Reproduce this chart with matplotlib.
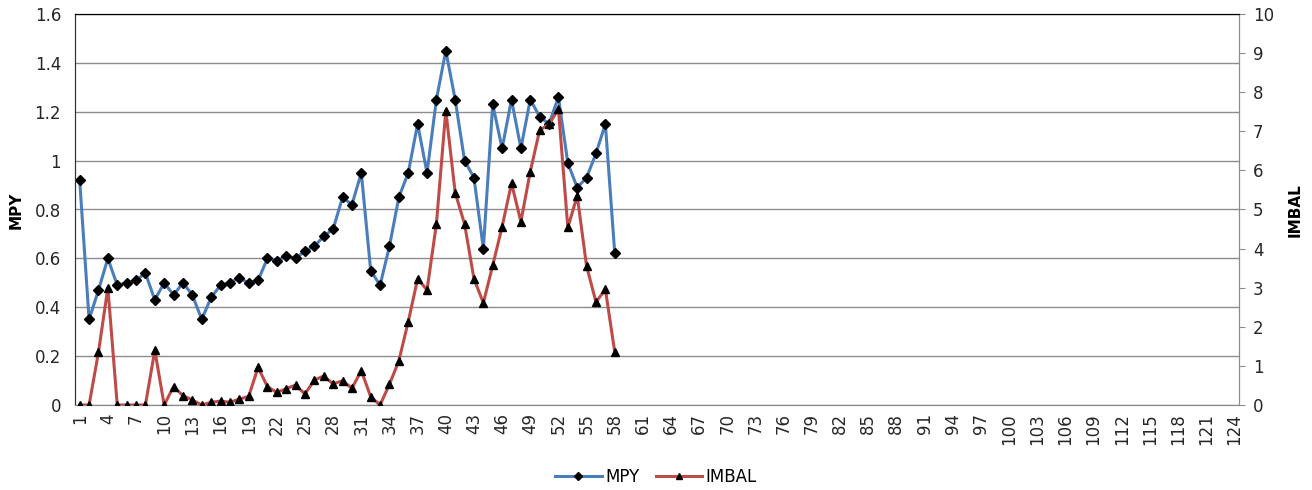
import matplotlib.pyplot as plt
import numpy as np

plt.rcParams['font.family'] = ['DejaVu Sans Condensed', 'DejaVu Sans']

n_cat = 124
mpy = [0.92, 0.35, 0.47, 0.60, 0.49, 0.50, 0.51, 0.54, 0.43, 0.50,
       0.45, 0.50, 0.45, 0.35, 0.44, 0.49, 0.50, 0.52, 0.50, 0.51,
       0.60, 0.59, 0.61, 0.60, 0.63, 0.65, 0.69, 0.72, 0.85, 0.82,
       0.95, 0.55, 0.49, 0.65, 0.85, 0.95, 1.15, 0.95, 1.25, 1.45,
       1.25, 1.00, 0.93, 0.64, 1.23, 1.05, 1.25, 1.05, 1.25, 1.18,
       1.15, 1.26, 0.99, 0.89, 0.93, 1.03, 1.15, 0.62]
imbal = [0, 0, 1.35, 3.0, 0, 0, 0, 0, 1.4, 0,
         0.47, 0.24, 0.13, 0, 0.07, 0.10, 0.07, 0.15, 0.22, 0.96,
         0.47, 0.32, 0.42, 0.51, 0.28, 0.64, 0.74, 0.54, 0.62, 0.43,
         0.88, 0.21, 0, 0.53, 1.13, 2.13, 3.23, 2.94, 4.63, 7.53,
         5.43, 4.63, 3.23, 2.61, 3.57, 4.56, 5.67, 4.69, 5.97, 7.03,
         7.18, 7.57, 4.54, 5.35, 3.55, 2.63, 2.96, 1.35]

x = np.arange(1, len(mpy) + 1)
tick_pos = np.arange(1, n_cat + 1, 3)

fig = plt.figure(figsize=(13.12, 4.9), dpi=100)
ax = fig.add_axes([75/1312, 1 - 405/490, (1239 - 75)/1312, (405 - 14)/490])
ax2 = ax.twinx()

l1, = ax.plot(x, mpy, color='#4A7EBB', lw=2.2, marker='D', ms=5.5,
              mfc='black', mec='black', label='MPY', zorder=3)
l2, = ax2.plot(x, imbal, color='#BE4B48', lw=2.2, marker='^', ms=6,
               mfc='black', mec='black', label='IMBAL', zorder=3)

ax.set_xlim(0.5, n_cat + 0.5)
ax.set_ylim(0, 1.6)
ax2.set_ylim(0, 10)
ax.set_yticks(np.arange(0, 1.61, 0.2))
ax.set_yticklabels(['0', '0.2', '0.4', '0.6', '0.8', '1', '1.2', '1.4', '1.6'])
ax2.set_yticks(range(0, 11))
ax.set_xticks(tick_pos)
ax.set_xticklabels([str(t) for t in tick_pos], rotation=90)
ax.grid(axis='y', color='#8c8c8c', lw=1)
ax.set_axisbelow(True)

for a in (ax, ax2):
    a.tick_params(labelsize=12, colors='#262626')
    a.spines['bottom'].set_color('#8c8c8c')
    a.spines['right'].set_color('#8c8c8c')
    a.spines['left'].set_color('#333333')
    a.spines['top'].set_color('black')
ax.tick_params(axis='x', length=0, pad=6)
ax.tick_params(axis='y', length=0, pad=10)
ax2.tick_params(axis='y', length=4, color='#8c8c8c', pad=6)

fig.text(16/1312, 1 - 210/490, 'MPY', rotation=90, fontsize=11, fontweight='bold',
         family='DejaVu Sans', ha='center', va='center')
fig.text(1295/1312, 1 - 210/490, 'IMBAL', rotation=90, fontsize=11, fontweight='bold',
         family='DejaVu Sans', ha='center', va='center')

fig.legend(handles=[l1, l2], loc='center', bbox_to_anchor=(656/1312, 1 - 477/490),
           ncol=2, frameon=False, fontsize=12, handlelength=2.8, handletextpad=0.2,
           columnspacing=1.0, markerscale=0.7)

fig.savefig('out.png', dpi=100)
